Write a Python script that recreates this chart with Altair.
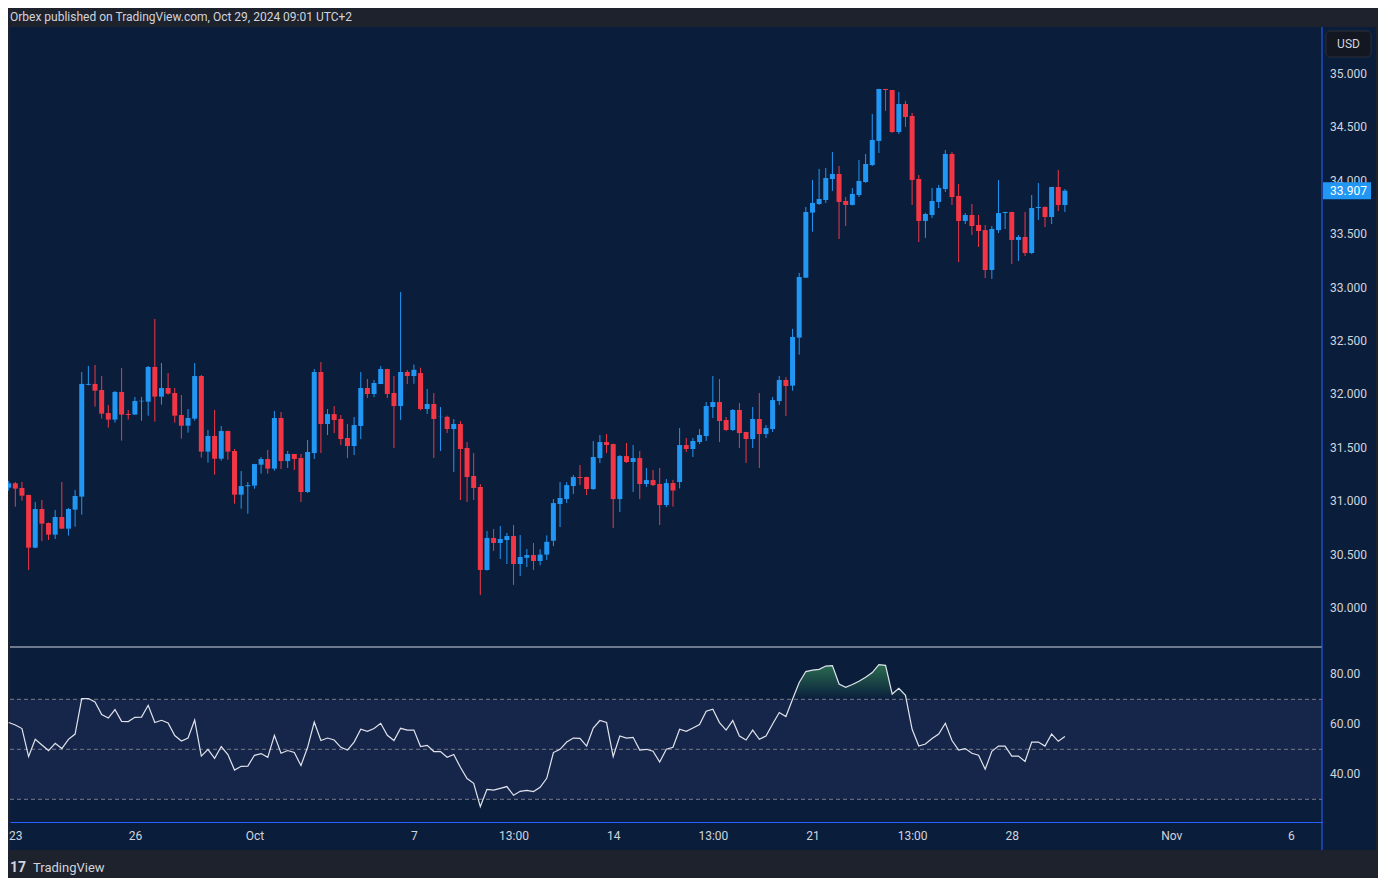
import altair as alt
import pandas as pd

# ---------------- data ----------------
idx = list(range(-1, 159))

opens = [31.127, 31.168, 31.124, 31.058, 30.565, 30.927, 30.796, 30.687, 30.852, 30.743,
         30.921, 31.043, 32.090, 32.098, 32.041, 31.826, 31.764, 32.023, 31.817, 31.811,
         31.935, 31.932, 32.257, 31.979, 32.060, 32.013, 31.807, 31.707, 31.773, 32.172,
         31.464, 31.611, 31.398, 31.657, 31.470, 31.061, 31.140, 31.146, 31.342, 31.395,
         31.305, 31.779, 31.376, 31.442, 31.404, 31.086, 31.451, 32.210, 31.723, 31.816,
         31.770, 31.592, 31.517, 31.704, 32.060, 32.004, 32.097, 32.238, 32.013, 31.891,
         32.210, 32.172, 32.200, 31.863, 31.910, 31.788, 31.790, 31.676, 31.723, 31.498,
         31.236, 31.133, 30.356, 30.656, 30.609, 30.637, 30.674, 30.412, 30.470, 30.496,
         30.440, 30.500, 30.630, 30.974, 31.020, 31.142, 31.226, 31.226, 31.114, 31.404,
         31.554, 31.535, 31.020, 31.423, 31.367, 31.404, 31.161, 31.198, 31.161, 30.964,
         31.170, 31.180, 31.526, 31.489, 31.554, 31.610, 31.882, 31.929, 31.760, 31.667,
         31.854, 31.648, 31.582, 31.770, 31.629, 31.676, 31.938, 32.135, 32.082, 32.532,
         33.093, 33.702, 33.783, 33.820, 34.017, 34.064, 33.811, 33.774, 33.867, 33.989,
         34.148, 34.373, 34.860, 34.850, 34.457, 34.719, 34.607, 34.017, 33.624, 33.680,
         33.802, 33.923, 34.251, 33.858, 33.624, 33.680, 33.586, 33.539, 33.165, 33.539,
         33.698, 33.708, 33.446, 33.474, 33.324, 33.745, 33.755, 33.661, 33.942, 33.773]

highs = [31.190, 31.180, 31.180, 31.060, 30.993, 31.012, 30.800, 30.918, 31.180, 30.937,
         31.105, 32.210, 32.266, 32.276, 32.173, 31.901, 32.032, 32.247, 31.854, 31.976,
         31.976, 32.266, 32.706, 32.294, 32.200, 32.060, 31.994, 31.863, 32.294, 32.182,
         31.667, 31.854, 31.704, 31.660, 31.489, 31.283, 31.180, 31.350, 31.414, 31.480,
         31.845, 31.835, 31.470, 31.442, 31.442, 31.573, 32.238, 32.303, 31.863, 31.891,
         31.807, 31.723, 31.788, 32.210, 32.144, 32.135, 32.266, 32.240, 32.172, 32.959,
         32.228, 32.280, 32.250, 32.051, 32.013, 31.882, 31.800, 31.770, 31.751, 31.554,
         31.451, 31.161, 30.721, 30.740, 30.768, 30.702, 30.777, 30.684, 30.553, 30.609,
         30.550, 30.680, 31.020, 31.179, 31.179, 31.245, 31.339, 31.230, 31.563, 31.620,
         31.629, 31.540, 31.432, 31.545, 31.526, 31.470, 31.311, 31.292, 31.311, 31.208,
         31.200, 31.685, 31.592, 31.592, 31.676, 31.929, 32.172, 32.144, 31.788, 31.863,
         31.919, 31.650, 31.882, 32.013, 31.713, 31.976, 32.172, 32.162, 32.613, 33.137,
         33.755, 34.008, 34.111, 34.120, 34.270, 34.139, 33.848, 33.933, 34.195, 34.251,
         34.626, 34.860, 34.860, 34.850, 34.832, 34.748, 34.635, 34.054, 33.700, 33.933,
         33.961, 34.288, 34.270, 33.970, 33.698, 33.783, 33.680, 33.586, 33.577, 34.007,
         33.710, 33.710, 33.492, 33.708, 33.867, 33.979, 33.760, 33.942, 34.101, 33.923]

lows = [31.100, 30.949, 31.005, 30.356, 30.560, 30.628, 30.637, 30.646, 30.740, 30.678,
        30.762, 30.874, 32.085, 31.885, 31.773, 31.689, 31.736, 31.567, 31.764, 31.810,
        31.754, 31.801, 31.745, 31.904, 32.000, 31.735, 31.586, 31.642, 31.754, 31.408,
        31.361, 31.249, 31.380, 31.389, 30.977, 30.930, 30.883, 31.117, 31.258, 31.258,
        31.286, 31.301, 31.311, 31.292, 30.992, 31.077, 31.395, 31.451, 31.620, 31.638,
        31.526, 31.404, 31.432, 31.582, 31.966, 31.975, 32.097, 31.966, 31.498, 31.760,
        32.097, 32.100, 31.850, 31.817, 31.405, 31.470, 31.639, 31.274, 31.011, 30.993,
        31.011, 30.122, 30.350, 30.534, 30.459, 30.412, 30.216, 30.300, 30.384, 30.356,
        30.400, 30.450, 30.580, 30.758, 30.983, 31.067, 31.151, 31.058, 31.105, 31.357,
        31.451, 30.749, 30.899, 31.358, 31.086, 31.020, 31.133, 31.142, 30.777, 30.945,
        30.950, 31.120, 31.461, 31.414, 31.535, 31.564, 31.779, 31.554, 31.657, 31.657,
        31.498, 31.358, 31.498, 31.311, 31.592, 31.648, 31.901, 31.798, 32.035, 32.372,
        33.090, 33.524, 33.774, 33.792, 33.905, 33.455, 33.577, 33.770, 33.848, 33.980,
        34.139, 34.260, 34.654, 34.448, 34.438, 34.504, 33.774, 33.427, 33.465, 33.652,
        33.745, 33.895, 33.773, 33.240, 33.595, 33.492, 33.380, 33.090, 33.081, 33.511,
        33.549, 33.221, 33.249, 33.296, 33.315, 33.633, 33.567, 33.595, 33.717, 33.708]

closes = [31.168, 31.118, 31.052, 30.565, 30.927, 30.790, 30.687, 30.852, 30.743, 30.927,
          31.049, 32.098, 32.098, 32.035, 31.820, 31.764, 32.023, 31.811, 31.808, 31.938,
          31.940, 32.257, 31.979, 32.060, 32.007, 31.801, 31.707, 31.779, 32.172, 31.464,
          31.611, 31.398, 31.657, 31.464, 31.061, 31.142, 31.150, 31.348, 31.395, 31.305,
          31.779, 31.376, 31.442, 31.395, 31.086, 31.461, 32.210, 31.723, 31.816, 31.760,
          31.582, 31.517, 31.713, 32.060, 32.004, 32.107, 32.238, 32.004, 31.891, 32.210,
          32.172, 32.230, 31.863, 31.910, 31.770, 31.790, 31.676, 31.723, 31.489, 31.227,
          31.124, 30.356, 30.656, 30.609, 30.646, 30.674, 30.412, 30.478, 30.496, 30.440,
          30.500, 30.620, 30.983, 31.030, 31.151, 31.226, 31.217, 31.114, 31.414, 31.554,
          31.526, 31.020, 31.423, 31.367, 31.404, 31.161, 31.198, 31.151, 30.964, 31.170,
          31.100, 31.526, 31.489, 31.564, 31.620, 31.891, 31.929, 31.751, 31.667, 31.854,
          31.638, 31.582, 31.770, 31.629, 31.685, 31.947, 32.135, 32.079, 32.538, 33.099,
          33.708, 33.792, 33.830, 34.026, 34.064, 33.802, 33.774, 33.877, 33.998, 34.157,
          34.382, 34.860, 34.850, 34.457, 34.719, 34.598, 34.008, 33.624, 33.689, 33.811,
          33.933, 34.251, 33.848, 33.624, 33.680, 33.577, 33.530, 33.165, 33.549, 33.698,
          33.708, 33.446, 33.474, 33.324, 33.745, 33.755, 33.661, 33.942, 33.773, 33.907]

rsi = [60.7, 59.7, 58.3, 47.1, 54.0, 51.7, 49.5, 52.4, 50.3, 54.0,
       56.1, 70.3, 70.3, 68.9, 63.9, 62.5, 65.9, 61.2, 61.1, 62.8,
       62.9, 67.6, 60.7, 61.6, 60.5, 55.5, 53.3, 54.5, 61.7, 47.3,
       50.0, 46.4, 51.1, 47.9, 41.7, 43.2, 43.3, 47.6, 48.3, 46.8,
       55.6, 48.4, 49.5, 48.7, 43.5, 50.8, 60.9, 53.5, 54.5, 53.7,
       50.8, 49.7, 52.9, 58.0, 57.2, 58.3, 60.4, 55.6, 53.5, 58.4,
       57.7, 57.7, 51.1, 51.6, 49.1, 49.1, 46.8, 47.9, 42.8, 38.3,
       36.4, 27.1, 34.0, 33.7, 34.4, 35.1, 31.6, 33.2, 33.6, 33.1,
       34.8, 38.4, 48.7, 50.0, 52.9, 54.5, 54.4, 51.3, 58.5, 61.5,
       60.7, 47.1, 55.3, 54.5, 54.8, 49.7, 50.0, 49.2, 44.9, 50.0,
       50.8, 58.0, 57.2, 58.5, 59.9, 65.2, 66.0, 60.7, 57.7, 61.5,
       55.3, 53.7, 57.7, 54.0, 55.3, 60.1, 64.7, 63.1, 70.0, 76.7,
       81.1, 81.7, 82.0, 83.3, 83.5, 76.1, 74.8, 75.9, 77.2, 78.8,
       80.7, 83.9, 83.6, 72.1, 74.4, 71.6, 58.0, 51.3, 52.1, 54.3,
       56.1, 60.4, 53.5, 49.7, 50.3, 48.4, 47.6, 42.0, 49.2, 51.3,
       51.3, 47.3, 47.3, 45.1, 52.9, 52.9, 51.3, 56.1, 53.2, 55.1]

tick_pos = [0, 18, 36, 60, 75, 90, 105, 120, 135, 150, 174, 192]
tick_labels = ["23", "26", "Oct", "7", "13:00", "14", "13:00", "21", "13:00", "28", "Nov", "6"]
price_ticks = [30.0, 30.5, 31.0, 31.5, 32.0, 32.5, 33.0, 33.5, 34.0, 34.5, 35.0]
rsi_ticks = [40, 60, 80]
rsi_levels = [70, 50, 30]
last_price = 33.907
title_text = "Orbex published on TradingView.com, Oct 29, 2024 09:01 UTC+2"

# ---------------- styling ----------------
FRAME = "#1e222d"
NAVY = "#0a1e3c"
BAND = "#16264b"
BLUE = "#2196f3"
RED = "#f23645"
AXISBLUE = "#2962ff"
TXT = "#d1d4dc"
FONT = "Roboto"

W, H_PRICE, H_ALL = 1312, 620, 795

df = pd.DataFrame({"i": idx, "open": opens, "high": highs, "low": lows,
                   "close": closes, "rsi": rsi})
one = pd.DataFrame({"a": [0]})

price_scale = alt.Scale(domain=[29.635, 35.44], range=[H_PRICE, 0], nice=False, zero=False)
rsi_scale = alt.Scale(domain=[20.92, 90.92], range=[H_ALL, H_PRICE], nice=False, zero=False)

label_expr = ""
for p, l in zip(tick_pos, tick_labels):
    label_expr += f"datum.value == {p} ? '{l}' : "
label_expr += "''"

X = alt.X("i:Q", scale=alt.Scale(domain=[-0.8, 196.7], nice=False, zero=False, padding=0),
          axis=alt.Axis(values=tick_pos, labelExpr=label_expr, title=None, grid=False,
                        ticks=False, labelPadding=8, labelFont=FONT, labelFontSize=12,
                        labelColor=TXT, domainColor=AXISBLUE, domainWidth=1,
                        labelOverlap=False, labelFlush=False, zindex=1))

bg = alt.Chart(one).mark_rect(color=NAVY).encode(
    x=alt.value(0), x2=alt.value(1366), y=alt.value(0), y2=alt.value(823))

band = alt.Chart(pd.DataFrame({"top": [70], "bot": [30]})).mark_rect(color=BAND).encode(
    x=alt.value(0), x2=alt.value(W),
    y=alt.Y("top:Q", scale=rsi_scale, axis=None), y2="bot:Q")

levels = alt.Chart(pd.DataFrame({"lvl": rsi_levels})).mark_rule(
    color="#787b86", strokeDash=[4, 3], strokeWidth=1).encode(
    x=alt.value(0), x2=alt.value(W), y=alt.Y("lvl:Q", scale=rsi_scale, axis=None))

green = alt.Chart(df).transform_calculate(
    top="max(datum.rsi, 70)", base="70").mark_area(
    color=alt.Gradient(gradient="linear", x1=0, y1=0, x2=0, y2=1,
                       stops=[alt.GradientStop(color="rgba(60,150,90,0.65)", offset=0),
                              alt.GradientStop(color="rgba(60,150,90,0.0)", offset=1)])
).encode(x=X, y=alt.Y("top:Q", scale=rsi_scale, axis=None), y2="base:Q")

line = alt.Chart(df).mark_line(color="#e0e3eb", strokeWidth=1.2).encode(
    x=X, y=alt.Y("rsi:Q", scale=rsi_scale, axis=None))

sep = alt.Chart(one).mark_rule(color=TXT, strokeWidth=1).encode(
    x=alt.value(0), x2=alt.value(W), y=alt.value(H_PRICE))

color_enc = alt.Color("dir:N", scale=alt.Scale(domain=["up", "down"], range=[BLUE, RED]),
                      legend=None)
cdf = alt.Chart(df).transform_calculate(dir="datum.close >= datum.open ? 'up' : 'down'")

wicks = cdf.mark_rule(strokeWidth=1).encode(
    x=X, y=alt.Y("low:Q", scale=price_scale, axis=None), y2="high:Q", color=color_enc)

bodies = cdf.mark_bar(size=5, orient="vertical").encode(
    x=X, y=alt.Y("open:Q", scale=price_scale, axis=None), y2="close:Q", color=color_enc)

plab = alt.Chart(pd.DataFrame({"p": price_ticks, "lab": [f"{v:.3f}" for v in price_ticks]})
                 ).mark_text(align="left", baseline="middle", font=FONT, fontSize=12,
                             color=TXT).encode(
    x=alt.value(1320), y=alt.Y("p:Q", scale=price_scale, axis=None), text="lab:N")

rlab = alt.Chart(pd.DataFrame({"p": rsi_ticks, "lab": [f"{v:.2f}" for v in rsi_ticks]})
                 ).mark_text(align="left", baseline="middle", font=FONT, fontSize=12,
                             color=TXT).encode(
    x=alt.value(1320), y=alt.Y("p:Q", scale=rsi_scale, axis=None), text="lab:N")

last_df = pd.DataFrame({"p": [last_price], "lab": [f"{last_price:.3f}"]})
last_box = alt.Chart(last_df).mark_rule(color=BLUE, strokeWidth=17).encode(
    x=alt.value(1313), x2=alt.value(1361), y=alt.Y("p:Q", scale=price_scale, axis=None))
last_txt = alt.Chart(last_df).mark_text(align="left", baseline="middle", font=FONT,
                                        fontSize=12, color="white").encode(
    x=alt.value(1320), y=alt.Y("p:Q", scale=price_scale, axis=None), text="lab:N")

usd_box = alt.Chart(one).mark_rect(fill="#131722", stroke="#2a2e39", strokeWidth=1,
                                   cornerRadius=4).encode(
    x=alt.value(1316), x2=alt.value(1361), y=alt.value(4), y2=alt.value(30))
usd_txt = alt.Chart(one).mark_text(text="USD", align="center", baseline="middle",
                                   font=FONT, fontSize=12, color=TXT).encode(
    x=alt.value(1338.5), y=alt.value(17))

vline = alt.Chart(one).mark_rule(color=AXISBLUE, strokeWidth=1).encode(
    x=alt.value(W), y=alt.value(0), y2=alt.value(823))

title = alt.Chart(one).mark_text(text=title_text, align="left", baseline="middle",
                                 font=FONT, fontSize=12, color=TXT).encode(
    x=alt.value(0), y=alt.value(-10))

logo = alt.Chart(one).mark_text(text="17", align="left", baseline="middle", font=FONT,
                                fontSize=14, fontWeight="bold", color=TXT).encode(
    x=alt.value(0), y=alt.value(841))
brand = alt.Chart(one).mark_text(text="TradingView", align="left", baseline="middle",
                                 font=FONT, fontSize=13, color=TXT).encode(
    x=alt.value(23), y=alt.value(841))

chart = alt.layer(
    bg, band, levels, green, line, sep, wicks, bodies, plab, rlab,
    last_box, last_txt, usd_box, usd_txt, vline, title, logo, brand
).resolve_scale(y="independent").properties(
    width=W, height=H_ALL,
    autosize=alt.AutoSizeParams(type="none"),
    padding={"left": 2, "top": 19, "right": 56, "bottom": 56},
    background=FRAME,
).configure_view(stroke=None)

chart.save("out.html", embed_options={"renderer": "svg", "actions": False})
